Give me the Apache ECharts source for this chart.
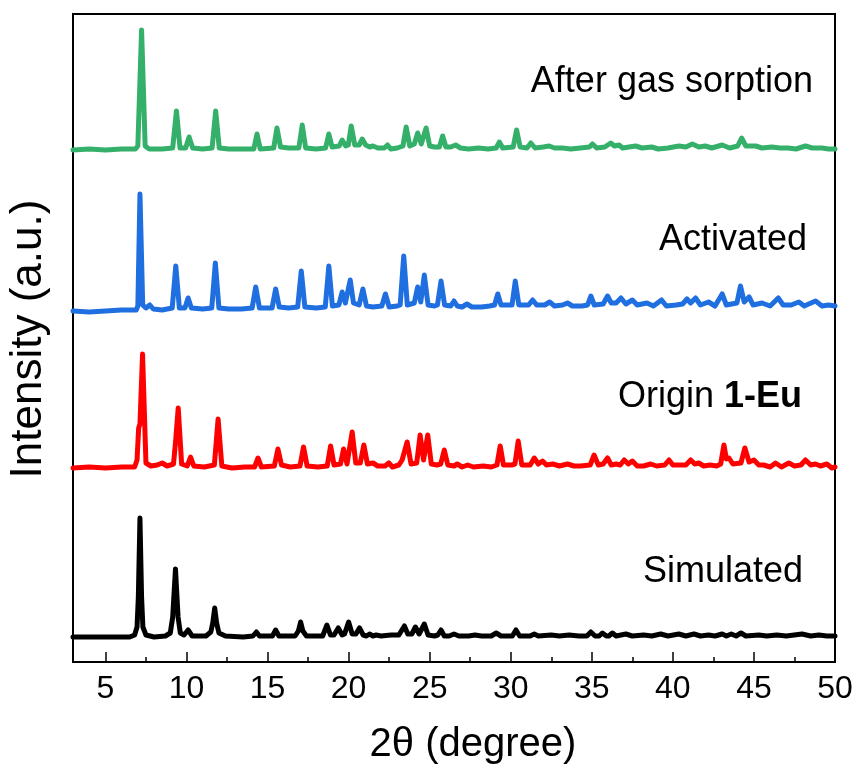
<!DOCTYPE html>
<html>
<head>
<meta charset="utf-8">
<script src="https://cdn.jsdelivr.net/npm/echarts@6/dist/echarts.min.js"></script>
<style>
  html, body { margin: 0; padding: 0; background: #fff; }
  #chart { width: 857px; height: 769px; }
</style>
</head>
<body>
<div id="chart"></div>
<script>
// ---- Data (2θ, intensity relative to each pattern's own baseline) ----
const xTickValues = [5, 10, 15, 20, 25, 30, 35, 40, 45, 50];
const xMinorTickValues = [7.5, 12.5, 17.5, 22.5, 27.5, 32.5, 37.5, 42.5, 47.5];

const seriesNames = ['Simulated', 'Origin 1-Eu', 'Activated', 'After gas sorption'];

const simulatedData = [
  [3,0],[6.5,0],[6.8,2],[6.95,10],[7.03,40],[7.13,119],[7.23,40],[7.31,10],[7.5,2],[8.0,0],[8.7,1],[9.0,4],[9.15,20],[9.32,68],[9.48,20],[9.62,4],[9.85,2],[10.1,7],[10.35,1],[11.2,1],[11.5,5],[11.62,14],[11.74,29],[11.86,14],[12.0,4],[12.4,1],[13.5,0],[14.1,1],[14.31,5],[14.5,1],[15.3,1],[15.5,7],[15.7,1],[16.7,1],[16.9,6],[17.04,15],[17.18,6],[17.4,1],[18.4,1],[18.66,12],[18.88,2],[19.1,2],[19.36,9],[19.6,2],[19.75,3],[20.0,15],[20.22,3],[20.45,3],[20.67,9],[20.9,2],[21.1,1],[21.29,3],[21.5,1],[21.7,2],[22.0,1],[22.62,2],[23.1,2],[23.2,3],[23.44,11],[23.65,3],[23.9,3],[24.12,10],[24.35,3],[24.45,4],[24.67,13],[24.9,2],[25.3,1],[25.5,2],[25.7,7],[25.9,1],[26.2,1],[26.5,3],[26.8,1],[27.4,1],[27.8,2],[28.2,1],[28.8,1],[29.1,4],[29.4,1],[30.1,1],[30.32,7],[30.55,1],[31.2,1],[31.45,3],[31.7,1],[32.5,2],[33.0,1],[33.6,2],[34.2,1],[34.7,1],[34.94,5],[35.2,1],[35.45,1],[35.65,4],[35.9,1],[36.05,1],[36.27,4],[36.5,1],[37.1,3],[37.5,1],[38.2,2],[38.7,1],[39.25,3],[39.7,1],[40.37,3],[40.8,1],[41.3,3],[41.7,1],[42.2,2],[42.6,1],[43.04,3],[43.3,1],[43.6,3],[43.9,1],[44.2,4],[44.5,1],[45.3,2],[45.8,1],[46.4,2],[47.0,1],[47.97,3],[48.5,1],[49.0,2],[49.5,1],[50,1]
];

const originData = [
  [3,0],[4,1],[5,0],[6,1],[6.8,1],[6.95,8],[7.05,40],[7.13,44],[7.29,114],[7.5,5],[7.8,2],[8.2,3],[8.5,5],[8.8,2],[9.2,4],[9.32,25],[9.49,60],[9.7,4],[10.05,2],[10.25,11],[10.45,2],[11.1,1],[11.72,3],[11.95,49],[12.18,2],[12.8,0],[13.6,1],[14.2,1],[14.41,10],[14.62,1],[15.42,2],[15.64,19],[15.86,3],[16.4,1],[17.0,2],[17.22,21],[17.44,2],[18.1,1],[18.68,2],[18.89,22],[19.1,3],[19.5,4],[19.69,19],[19.9,4],[20.0,6],[20.22,36],[20.44,5],[20.72,5],[20.94,23],[21.16,4],[21.5,5],[21.8,2],[22.25,2],[22.48,5],[22.7,1],[23.1,3],[23.3,8],[23.61,26],[23.85,4],[24.2,5],[24.41,33],[24.62,8],[24.88,33],[25.1,4],[25.45,3],[25.68,4],[25.9,18],[26.12,3],[26.5,2],[26.7,4],[27.0,1],[27.34,3],[27.7,1],[28.3,2],[28.8,1],[29.15,3],[29.35,22],[29.55,3],[30.05,3],[30.26,4],[30.46,27],[30.68,3],[31.2,3],[31.45,10],[31.7,4],[31.96,7],[32.2,3],[32.6,4],[33.0,2],[33.5,4],[33.9,2],[34.3,2],[34.9,3],[35.14,13],[35.4,3],[35.7,4],[35.97,10],[36.2,3],[36.5,4],[36.75,3],[37.0,8],[37.25,4],[37.5,7],[37.8,2],[38.2,2],[38.63,4],[39.0,2],[39.5,3],[39.76,8],[40.0,3],[40.4,3],[40.8,3],[41.1,8],[41.35,4],[41.6,5],[41.9,2],[42.3,3],[42.7,2],[42.95,4],[43.15,23],[43.3,9],[43.46,10],[43.7,4],[44.2,5],[44.44,20],[44.7,6],[45.0,8],[45.3,3],[45.6,3],[46.0,1],[46.33,5],[46.7,1],[47.15,5],[47.5,2],[47.9,3],[48.18,8],[48.5,3],[48.8,4],[49.1,2],[49.5,4],[49.8,0],[50,1]
];

const activatedData = [
  [3,0],[4,-1],[5,0],[6,1],[6.9,1],[7.0,5],[7.13,117],[7.3,6],[7.5,3],[7.74,6],[7.95,2],[8.5,1],[9.12,3],[9.34,45],[9.56,3],[9.9,3],[10.1,13],[10.3,3],[11.0,2],[11.56,3],[11.78,48],[12.0,3],[12.6,2],[13.4,2],[14.05,3],[14.27,24],[14.5,3],[15.28,3],[15.5,22],[15.72,4],[16.3,3],[16.86,4],[17.08,40],[17.3,4],[18.0,3],[18.56,4],[18.78,45],[19.0,5],[19.4,6],[19.6,19],[19.8,8],[19.9,10],[20.1,31],[20.3,8],[20.65,6],[20.88,22],[21.1,5],[21.5,4],[22.05,5],[22.27,17],[22.5,4],[23.0,5],[23.18,6],[23.4,55],[23.62,6],[24.05,8],[24.26,24],[24.45,9],[24.67,36],[24.9,6],[25.3,5],[25.48,6],[25.7,30],[25.92,6],[26.3,5],[26.5,10],[26.7,5],[27.0,4],[27.3,7],[27.6,4],[28.2,4],[28.7,5],[29.0,6],[29.2,17],[29.4,6],[30.08,6],[30.28,30],[30.5,6],[31.1,6],[31.35,11],[31.6,6],[32.1,6],[32.4,9],[32.7,5],[33.2,6],[33.5,8],[33.8,5],[34.4,5],[34.74,6],[34.94,15],[35.15,6],[35.7,7],[35.97,15],[36.2,8],[36.5,8],[36.8,13],[37.1,7],[37.5,11],[37.8,6],[38.4,8],[38.8,5],[39.3,11],[39.6,5],[40.2,6],[40.6,7],[40.87,12],[41.1,8],[41.4,13],[41.7,6],[42.2,9],[42.6,5],[43.04,17],[43.3,6],[43.95,8],[44.17,25],[44.4,9],[44.7,14],[44.95,6],[45.5,8],[46.0,5],[46.5,13],[46.8,6],[47.3,6],[47.77,9],[48.1,5],[48.8,10],[49.2,5],[49.6,6],[50,5]
];

const afterGasData = [
  [3,0],[4,1],[5,0],[6,1],[6.85,1],[7.0,4],[7.23,120],[7.45,4],[7.7,1],[8.5,1],[9.15,2],[9.38,39],[9.6,2],[9.95,2],[10.16,13],[10.38,2],[11.0,1],[11.58,2],[11.8,39],[12.02,2],[12.6,1],[13.5,1],[14.15,1],[14.35,16],[14.55,1],[15.38,2],[15.58,22],[15.8,3],[16.3,2],[16.93,2],[17.14,25],[17.35,2],[18.0,1],[18.58,2],[18.78,16],[18.98,3],[19.42,4],[19.6,10],[19.82,4],[19.98,5],[20.16,24],[20.38,5],[20.65,5],[20.84,11],[21.05,5],[21.3,3],[21.5,4],[21.8,2],[22.2,2],[22.4,5],[22.6,1],[23.0,2],[23.35,4],[23.55,23],[23.77,4],[24.05,6],[24.26,17],[24.48,6],[24.6,8],[24.78,22],[25.0,4],[25.3,3],[25.6,3],[25.8,14],[26.0,3],[26.3,3],[26.6,5],[26.9,2],[27.4,1],[28.0,2],[28.6,1],[29.1,2],[29.3,8],[29.5,2],[30.15,3],[30.36,20],[30.58,3],[31.0,2],[31.24,7],[31.5,2],[32.0,3],[32.37,4],[32.7,2],[33.2,2],[33.7,1],[34.3,2],[34.85,3],[35.04,6],[35.3,2],[35.8,3],[36.17,7],[36.4,4],[36.68,5],[36.9,2],[37.3,3],[37.7,4],[38.1,2],[38.7,3],[39.1,1],[39.7,2],[40.37,4],[40.8,3],[41.2,6],[41.6,3],[42.0,4],[42.4,2],[43.04,5],[43.5,2],[44.0,4],[44.24,12],[44.5,4],[45.1,4],[45.5,2],[46.1,3],[46.6,2],[47.1,2],[47.6,1],[48.18,4],[48.6,2],[49.2,2],[49.6,1],[50,1]
];

// vertical stacking offsets (layout, in y-axis units)
const stackOffsets = [25, 194, 351, 512];
const seriesColors = ['#000000', '#ff0000', '#1f6fe0', '#34b06a'];
const allData = [simulatedData, originData, activatedData, afterGasData];

const FONT = '"Liberation Sans", Arial, Helvetica, sans-serif';

const chart = echarts.init(document.getElementById('chart'), null, { renderer: 'canvas' });

const series = allData.map((d, i) => ({
  name: seriesNames[i],
  type: 'line',
  xAxisIndex: 0,
  yAxisIndex: 0,
  data: d.map(p => [p[0], p[1] + stackOffsets[i]]),
  showSymbol: false,
  symbol: 'none',
  smooth: false,
  clip: true,
  lineStyle: { color: seriesColors[i], width: 5, join: 'round', cap: 'round' },
  z: 3,
  silent: true
}));

const option = {
  animation: false,
  backgroundColor: '#fff',
  grid: {
    left: 73, right: 22, top: 14, bottom: 107,
    show: true, borderColor: '#000', borderWidth: 2, backgroundColor: 'transparent'
  },
  xAxis: [
    {
      type: 'value', min: 3, max: 50,
      axisLine: { show: true, onZero: false, lineStyle: { color: '#000', width: 2 } },
      axisTick: { show: true, inside: true, length: 10, customValues: xTickValues, lineStyle: { color: '#000', width: 1.5 } },
      axisLabel: { show: true, customValues: xTickValues, fontSize: 32, color: '#000', margin: 11, fontFamily: FONT,
        showMinLabel: true, showMaxLabel: true },
      splitLine: { show: false }
    },
    {
      type: 'value', min: 3, max: 50, position: 'bottom',
      axisLine: { show: false },
      axisTick: { show: true, inside: true, length: 5, customValues: xMinorTickValues, lineStyle: { color: '#000', width: 1.5 } },
      axisLabel: { show: false },
      splitLine: { show: false }
    }
  ],
  yAxis: {
    type: 'value', min: 0, max: 648,
    axisLine: { show: true, onZero: false, lineStyle: { color: '#000', width: 2 } },
    axisTick: { show: false },
    axisLabel: { show: false },
    splitLine: { show: false }
  },
  graphic: [
    { type: 'text', x: 813, y: 82, style: { text: 'After gas sorption', textAlign: 'right', textVerticalAlign: 'middle', font: '36px ' + FONT, fill: '#000' } },
    { type: 'text', x: 807, y: 240, style: { text: 'Activated', textAlign: 'right', textVerticalAlign: 'middle', font: '36px ' + FONT, fill: '#000' } },
    { type: 'text', x: 802, y: 397, style: { text: 'Origin {b|1-Eu}', textAlign: 'right', textVerticalAlign: 'middle', font: '36px ' + FONT, fill: '#000',
        rich: { b: { fontWeight: 'bold', fontSize: 36, fontFamily: FONT, fill: '#000' } } } },
    { type: 'text', x: 803, y: 572, style: { text: 'Simulated', textAlign: 'right', textVerticalAlign: 'middle', font: '36px ' + FONT, fill: '#000' } },
    { type: 'text', x: 473, y: 745, style: { text: '2θ (degree)', textAlign: 'center', textVerticalAlign: 'middle', font: '40px ' + FONT, fill: '#000' } },
    { type: 'text', x: 29, y: 339, rotation: Math.PI / 2, style: { text: 'Intensity (a.u.)', textAlign: 'center', textVerticalAlign: 'middle', font: '44px ' + FONT, fill: '#000' } }
  ],
  series: series
};

chart.setOption(option);
</script>
</body>
</html>
